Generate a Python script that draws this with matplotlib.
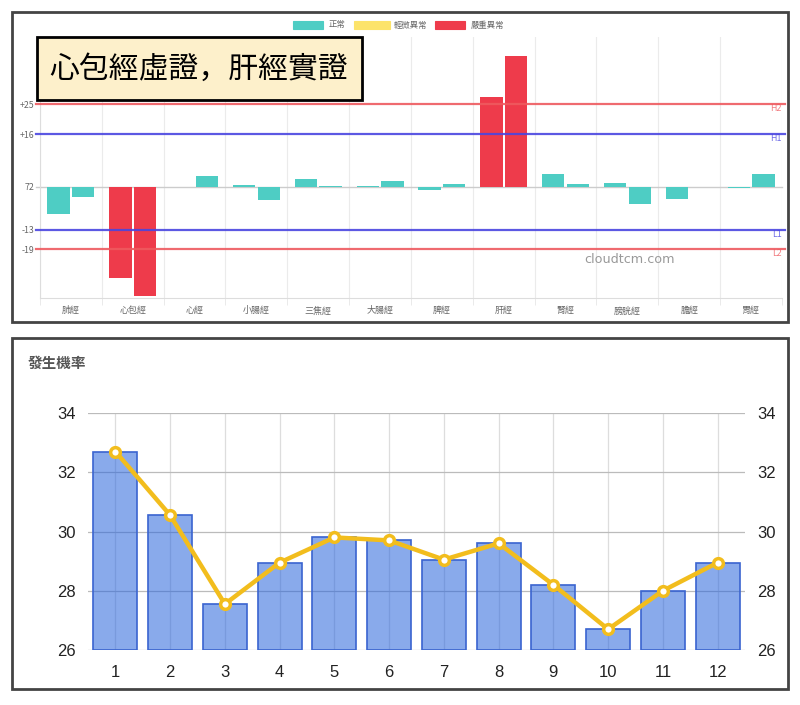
import numpy as np
import matplotlib
matplotlib.use("Agg")
import matplotlib.pyplot as plt
from matplotlib.patches import Rectangle

plt.rcParams['font.family'] = ['Noto Sans CJK TC', 'DejaVu Sans']

# ---- top chart data (deviation from the 72 baseline) ----
meridians = ['肺經', '心包經', '心經', '小腸經', '三焦經', '大腸經',
             '脾經', '肝經', '腎經', '膀胱經', '膽經', '胃經']
left_vals = [-8.1, -27.5, -0.1, 0.6, 2.5, 0.2, -1.1, 27.3, 3.8, 1.2, -3.8, -0.3]
right_vals = [-3.0, -33.0, 3.2, -4.0, 0.3, 1.8, 0.8, 39.7, 0.8, -5.2, -0.1, 4.0]
severe = ['心包經', '肝經']
legend_labels = ['正常', '輕微異常', '嚴重異常']
legend_colors = ['#4ecdc4', '#fce36a', '#ee3b4b']
thresholds = [25, 16, -13, -19]
threshold_names = ['H2', 'H1', 'L1', 'L2']
threshold_colors = ['#ee5a5f', '#4a46e0', '#4a46e0', '#ee5a5f']
ytick_vals = [25, 16, 0, -13, -19]
ytick_labels = ['+25', '+16', '72', '-13', '-19']
summary = '心包經虛證，肝經實證'

# ---- bottom chart data ----
hours = list(range(1, 13))
probability = [32.7, 30.55, 27.55, 28.95, 29.8, 29.7, 29.05, 29.6, 28.2, 26.7, 28.0, 28.95]

W, H = 800, 705
fig = plt.figure(figsize=(8, 7.05), dpi=100)


def fx(px):
    return px / W


def fy(py):
    return 1 - py / H


# panel frames
for (x0, y0, x1, y1) in [(12, 12, 788, 322), (12, 338, 788, 689)]:
    fig.add_artist(Rectangle((fx(x0), fy(y1)), fx(x1 - x0), (y1 - y0) / H,
                             transform=fig.transFigure, fill=False,
                             edgecolor='#444444', linewidth=2, zorder=10))

# ---------------- top chart ----------------
ax1 = fig.add_axes([fx(40), fy(298), fx(782 - 40), (298 - 37) / H])
x = np.arange(len(meridians))
bw = 0.36
for i, name in enumerate(meridians):
    c = legend_colors[2] if name in severe else legend_colors[0]
    ax1.bar(x[i] - 0.2, left_vals[i], width=bw, color=c, zorder=3)
    ax1.bar(x[i] + 0.2, right_vals[i], width=bw, color=c, zorder=3)

ax1.set_xlim(-0.5, len(meridians) - 0.5)
ax1.set_ylim(-33.7, 45.4)
ax1.axhline(0, color='#cccccc', linewidth=1, zorder=2, xmin=-0.005, clip_on=False)
for v, n, c in zip(thresholds, threshold_names, threshold_colors):
    ax1.axhline(v, color=c, linewidth=1.6, alpha=0.9, zorder=4, xmin=-0.005,
                xmax=1.004, clip_on=False)
    ax1.text(1.0, v, n, transform=ax1.get_yaxis_transform(), ha='right',
             va='top', fontsize=6, color=c, alpha=0.8,
             family=['DejaVu Sans'])

ax1.set_yticks(ytick_vals)
ax1.set_yticklabels(ytick_labels)
ax1.tick_params(axis='y', length=0, pad=4, labelsize=6.3, labelcolor='#666666')
ax1.set_xticks(x)
ax1.set_xticklabels(meridians)
ax1.tick_params(axis='x', which='major', length=0, pad=6, labelsize=6.5,
                labelcolor='#666666')
ax1.set_xticks(np.arange(len(meridians) + 1) - 0.5, minor=True)
ax1.tick_params(axis='x', which='minor', length=5, color='#e6e6e6')
ax1.grid(True, which='minor', axis='x', color='#ebebeb', linewidth=0.8, zorder=0)
for s in ['top', 'right']:
    ax1.spines[s].set_visible(False)
ax1.spines['left'].set_color('#dddddd')
ax1.spines['bottom'].set_color('#dddddd')

ax1.text(0.795, 0.146, 'cloudtcm.com', transform=ax1.transAxes, ha='center',
         va='center', fontsize=9.2, color='#999999', family=['DejaVu Sans'])

# legend drawn along the top edge
swatches = [(293, 323, 329), (354, 390, 394), (435, 465, 471)]
for (s0, s1, tx), lab, col in zip(swatches, legend_labels, legend_colors):
    fig.add_artist(Rectangle((fx(s0), fy(29)), fx(s1 - s0), 8 / H,
                             transform=fig.transFigure, facecolor=col,
                             edgecolor=col, linewidth=0.8))
    fig.text(fx(tx), fy(25), lab, ha='left', va='center', fontsize=6,
             color='#666666')

# summary box
fig.add_artist(Rectangle((fx(37), fy(100)), fx(362 - 37), 63 / H,
                         transform=fig.transFigure, facecolor='#fdf0cb',
                         edgecolor='black', linewidth=2, zorder=8))
fig.text(fx(199), fy(69), summary, ha='center', va='center', fontsize=21.5,
         color='black', zorder=9, family=['Noto Sans CJK JP', 'DejaVu Sans'])

# ---------------- bottom chart ----------------
ax2 = fig.add_axes([fx(88), fy(650), fx(745 - 88), (650 - 413) / H])
ax2.bar(hours, [p - 26 for p in probability], bottom=26, width=0.8,
        color='#2864dc', alpha=0.55, zorder=2)
ax2.bar(hours, [p - 26 for p in probability], bottom=26, width=0.8,
        fill=False, edgecolor='#3a64d0', linewidth=1.2, zorder=3)
ax2.plot(hours, probability, color='#f2bd1d', linewidth=3.2, marker='o',
         markersize=7, markerfacecolor='white', markeredgecolor='#f2bd1d',
         markeredgewidth=2.5, zorder=5)
ax2.set_xlim(0.5, 12.5)
ax2.set_ylim(26, 34)
ax2.set_yticks([26, 28, 30, 32, 34])
ax2.set_xticks(hours)
ax2.grid(True, axis='y', color='#bbbbbb', linewidth=0.9, zorder=1)
ax2.grid(True, axis='x', color='#dddddd', linewidth=0.9, zorder=4)
for s in ax2.spines.values():
    s.set_visible(False)
ax2.tick_params(axis='y', length=0, labelleft=True, labelright=True, pad=9,
                labelsize=12)
ax2.tick_params(axis='x', length=0, pad=11, labelsize=12)
for lab in ax2.get_xticklabels() + ax2.get_yticklabels():
    lab.set_family(['Liberation Sans'])
    lab.set_color('#222222')
for lab in ax2.yaxis.get_ticklabels(which='both'):
    lab.set_family(['Liberation Sans'])

fig.text(fx(28), fy(363), '發生機率', ha='left', va='center', fontsize=10.5,
         fontweight='bold', color='#555555')

fig.savefig('out.png', dpi=100)
